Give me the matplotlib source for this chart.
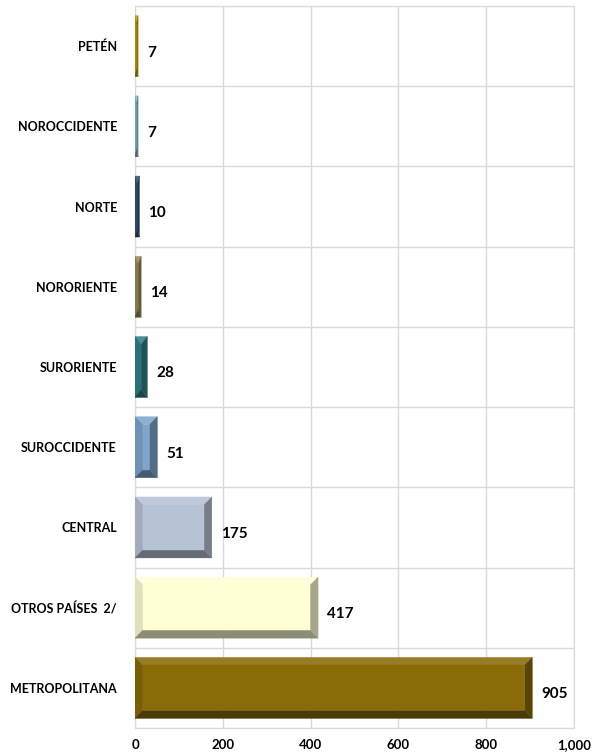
import numpy as np
import matplotlib.pyplot as plt
from matplotlib.patches import Polygon
from matplotlib.colors import to_rgb
from matplotlib.ticker import FuncFormatter

regions = ["METROPOLITANA", "OTROS PAÍSES  2/", "CENTRAL", "SUROCCIDENTE",
           "SURORIENTE", "NORORIENTE", "NORTE", "NOROCCIDENTE", "PETÉN"]
values = [905, 417, 175, 51, 28, 14, 10, 7, 7]
xticks = [0, 200, 400, 600, 800, 1000]

bar_colors = ["#8b6a08", "#ffffd6", "#b7c2d5", "#7ea6cc", "#2f8088",
              "#9a8a5c", "#2f5080", "#7fbad6", "#c99c00"]

plt.rcParams['font.family'] = ['Lato', 'DejaVu Sans']


def shade(c, f):
    r = np.array(to_rgb(c))
    if f > 0:
        return tuple(r + (1 - r) * f)
    return tuple(r * (1 + f))


def bevel_bar(ax, y, w, h, color, bx=18, by=0.1):
    bx = min(bx, w / 2)
    by = min(by, h / 2)
    y0, y1 = y - h / 2, y + h / 2
    # outer corners / inner corners
    o = [(0, y0), (w, y0), (w, y1), (0, y1)]
    i = [(bx, y0 + by), (w - bx, y0 + by), (w - bx, y1 - by), (bx, y1 - by)]
    faces = [
        ([o[3], o[2], i[2], i[3]], shade(color, 0.12)),   # top
        ([o[0], o[3], i[3], i[0]], shade(color, -0.12)),  # left
        ([o[0], o[1], i[1], i[0]], shade(color, -0.45)),  # bottom
        ([o[1], o[2], i[2], i[1]], shade(color, -0.35)),  # right
        (i, color),
    ]
    for pts, c in faces:
        ax.add_patch(Polygon(pts, closed=True, facecolor=c, edgecolor=c,
                             lw=0.3, zorder=3))


fig = plt.figure(figsize=(5.96, 7.56), dpi=100)
ax = fig.add_axes([135 / 596, 1 - 728 / 756, 439 / 596, 722 / 756])

ypos = np.arange(len(regions))
bar_h = 0.76
for y, v, c in zip(ypos, values, bar_colors):
    bevel_bar(ax, y, v, bar_h, c)
    ax.text(v + 20, y - 0.08, f"{v}", va='center', ha='left',
            fontsize=11, fontweight='bold', color='black')

ax.set_xlim(0, 1000)
ax.set_ylim(-0.5, len(regions) - 0.5)
ax.set_xticks(xticks)
ax.xaxis.set_major_formatter(FuncFormatter(lambda x, p: f"{int(x):,}"))
ax.set_yticks(ypos)
ax.set_yticklabels(regions)
ax.set_yticks(np.arange(len(regions) + 1) - 0.5, minor=True)

for lab in ax.get_xticklabels() + ax.get_yticklabels():
    lab.set_fontweight('bold')
ax.tick_params(axis='x', length=0, pad=8, labelsize=9.5)
ax.tick_params(axis='y', length=0, pad=13, labelsize=9)
ax.tick_params(which='minor', length=0)

ax.grid(True, axis='x', color='#d9d9d9', lw=1)
ax.grid(True, axis='y', which='minor', color='#d9d9d9', lw=1)
ax.set_axisbelow(True)
for s in ax.spines.values():
    s.set_color('#d9d9d9')

fig.savefig('out.png', dpi=100)
